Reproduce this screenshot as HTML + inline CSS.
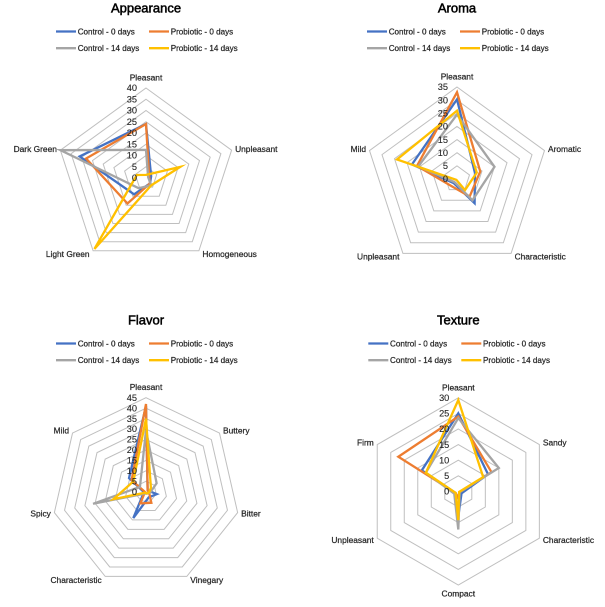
<!DOCTYPE html>
<html lang="en">
<head>
<meta charset="utf-8">
<title>Radar charts: Appearance, Aroma, Flavor, Texture</title>
<style>
  html, body { margin: 0; padding: 0; background: #ffffff; }
  svg { display: block; font-family: "Liberation Sans", sans-serif; filter: blur(0.3px); }
  .title { font-size: 13px; fill: #000000; text-anchor: middle; stroke: #000000; stroke-width: 0.5px; }
  .legend-text { font-size: 8.1px; fill: #262626; stroke: #262626; stroke-width: 0.22px; }
  .category { font-size: 8.4px; fill: #262626; stroke: #262626; stroke-width: 0.22px; }
  .tick { font-size: 9.2px; fill: #262626; text-anchor: end; stroke: #262626; stroke-width: 0.12px; }
</style>
</head>
<body>
<svg id="figure" width="605" height="607" viewBox="0 0 605 607" xmlns="http://www.w3.org/2000/svg"></svg>
<script>
const seriesNames = ['Control - 0 days', 'Probiotic - 0 days', 'Control - 14 days', 'Probiotic - 14 days'];
const seriesColors = ['#4472c4', '#ed7d31', '#a5a5a5', '#ffc000'];

const appearanceCategories = ['Pleasant', 'Unpleasant', 'Homogeneous', 'Light Green', 'Dark Green'];
const appearanceTicks = [0, 5, 10, 15, 20, 25, 30, 35, 40];
const appearanceControl0 = [24, 2.4, 3, 9, 31];
const appearanceProbiotic0 = [24, 1.5, 3, 14, 28];
const appearanceControl14 = [12.5, 1, 4, 5.6, 40];
const appearanceProbiotic14 = [1.4, 16, 4, 39, 4.3];

const aromaCategories = ['Pleasant', 'Aromatic', 'Characteristic', 'Unpleasant', 'Mild'];
const aromaTicks = [0, 5, 10, 15, 20, 25, 30, 35];
const aromaControl0 = [30.3, 7.2, 11.4, 2, 18];
const aromaProbiotic0 = [33, 9.3, 8.2, 3.4, 16];
const aromaControl14 = [24.5, 15, 10, 1.5, 15.5];
const aromaProbiotic14 = [26, 7.9, 5.2, 0.4, 24];

const flavorCategories = ['Pleasant', 'Buttery', 'Bitter', 'Vinegary', 'Characteristic', 'Spicy', 'Mild'];
const flavorTicks = [0, 5, 10, 15, 20, 25, 30, 35, 40, 45];
const flavorControl0 = [41, 1, 5.3, 3, 14, 1, 10.4];
const flavorProbiotic0 = [42, 1, 1.5, 5.9, 6.2, 0.5, 8.8];
const flavorControl14 = [29.5, 6.5, 2, 1, 1, 26, 3.7];
const flavorProbiotic14 = [35, 3, 1.5, 1, 0.5, 16, 7.8];

const textureCategories = ['Pleasant', 'Sandy', 'Characteristic', 'Compact', 'Unpleasant', 'Firm'];
const textureTicks = [0, 5, 10, 15, 20, 25, 30];
const textureControl0 = [25, 11, 1.2, 8, 1, 13.5];
const textureProbiotic0 = [24, 12.3, 0.5, 2, 1, 22.2];
const textureControl14 = [23.5, 15, 0.5, 12.2, 1.5, 12];
const textureProbiotic14 = [29.3, 9.2, 0.3, 9.2, 1, 12];

const SVG_NS = 'http://www.w3.org/2000/svg';
const figure = document.getElementById('figure');

function make(tag, attrs, parent, text) {
  const el = document.createElementNS(SVG_NS, tag);
  for (const k in attrs) el.setAttribute(k, attrs[k]);
  if (text !== undefined) el.textContent = text;
  parent.appendChild(el);
  return el;
}

function slug(s) {
  return s.toLowerCase().replace(/[^a-z0-9]+/g, '-').replace(/^-|-$/g, '');
}

function drawRadar(title, categories, ticks, series, cx, cy, radius, titleY) {
  const maxValue = ticks[ticks.length - 1];
  const n = categories.length;
  const chartSlug = slug(title);
  const angleAt = function (i) { return 2 * Math.PI * i / n; };
  const rScale = function (v) { return radius * v / maxValue; };
  const px = function (i, v) { return cx + rScale(v) * Math.sin(angleAt(i)); };
  const py = function (i, v) { return cy - rScale(v) * Math.cos(angleAt(i)); };

  const chart = make('g', {}, figure);
  
  

  const titleEl = make('text', { x: cx, y: titleY + 4.5, class: 'title' }, chart, title);
  
  

  // legend
  const legendColumns = [cx - 90, cx + 3];
  const legendRows = [titleY + 23.5, titleY + 40.2];
  seriesNames.forEach(function (name, s) {
    const col = s % 2;
    const row = s < 2 ? 0 : 1;
    const entry = make('g', {}, chart);
    
    
    const lx = legendColumns[col];
    const ly = legendRows[row];
    make('line', { x1: lx, y1: ly, x2: lx + 20, y2: ly, stroke: seriesColors[s], 'stroke-width': 2.3 }, entry);
    make('text', { x: lx + 21.7, y: ly + 2.8, class: 'legend-text' }, entry, name);
  });

  // grid rings
  ticks.forEach(function (t) {
    if (t === 0) return;
    let pts = '';
    for (let i = 0; i < n; i++) pts += px(i, t).toFixed(2) + ',' + py(i, t).toFixed(2) + ' ';
    const ring = make('polygon', { points: pts, fill: 'none', stroke: '#bfbfbf', 'stroke-width': 1 }, chart);
    
    
  });

  // category labels
  categories.forEach(function (c, i) {
    const s = Math.sin(angleAt(i));
    const co = Math.cos(angleAt(i));
    const vx = px(i, maxValue);
    const vy = py(i, maxValue);
    let anchor = 'middle';
    let tx = vx;
    let ty;
    if (Math.abs(s) < 0.01) {
      ty = co > 0 ? vy - 7.5 : vy + 11.5;
    } else {
      anchor = s > 0 ? 'start' : 'end';
      tx = vx + (s > 0 ? 3.5 : -3.5);
      ty = vy - co * 4 + 2.8;
    }
    const label = make('text', { x: tx, y: ty, class: 'category', 'text-anchor': anchor }, chart, c);
    
    
  });

  // series
  series.forEach(function (values, s) {
    const pts = values.map(function (v, i) {
      return px(i, v).toFixed(2) + ',' + py(i, v).toFixed(2);
    }).join(' ');
    const line = make('polygon', {
      points: pts, fill: 'none', stroke: seriesColors[s],
      'stroke-width': 2.3, 'stroke-linejoin': 'miter', 'stroke-miterlimit': 6
    }, chart);
    
    
  });

  // tick labels sit on top of the series
  ticks.forEach(function (t) {
    const label = make('text', { x: cx - 9, y: cy - rScale(t) + 3.2, class: 'tick' }, chart, String(t));
    
    
  });
}

drawRadar('Appearance', appearanceCategories, appearanceTicks,
  [appearanceControl0, appearanceProbiotic0, appearanceControl14, appearanceProbiotic14],
  146, 178, 90, 8);
drawRadar('Aroma', aromaCategories, aromaTicks,
  [aromaControl0, aromaProbiotic0, aromaControl14, aromaProbiotic14],
  457, 179, 92, 8);
drawRadar('Flavor', flavorCategories, flavorTicks,
  [flavorControl0, flavorProbiotic0, flavorControl14, flavorProbiotic14],
  146, 491.7, 94, 320);
drawRadar('Texture', textureCategories, textureTicks,
  [textureControl0, textureProbiotic0, textureControl14, textureProbiotic14],
  458.3, 491.4, 93.6, 320);
</script>
</body>
</html>
